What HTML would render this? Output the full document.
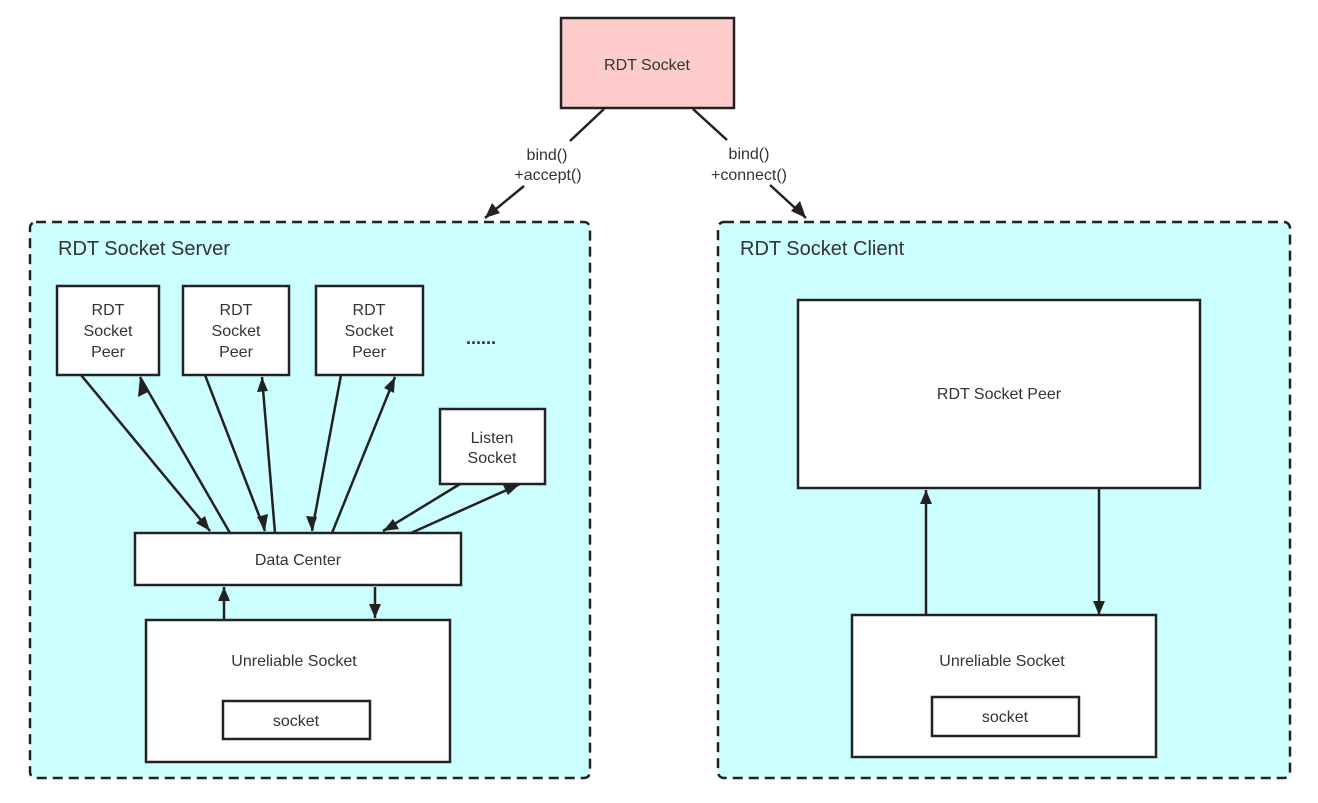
<!DOCTYPE html>
<html><head><meta charset="utf-8"><style>
html,body{margin:0;padding:0;background:#fff;}
svg{display:block;}
text{font-family:"Liberation Sans","DejaVu Sans",sans-serif;fill:#333;}
</style></head><body>
<svg width="1318" height="803" viewBox="0 0 1318 803" xmlns="http://www.w3.org/2000/svg">
<g stroke="#222" stroke-width="2.5">
<rect x="30" y="222" width="560" height="556" rx="6" fill="#ccffff" stroke-dasharray="10,6"/>
<rect x="718" y="222" width="572" height="556" rx="6" fill="#ccffff" stroke-dasharray="10,6"/>
<rect x="561" y="18" width="173" height="90" fill="#ffcccc"/>
<rect x="57" y="286" width="102" height="89" fill="#fff"/>
<rect x="183" y="286" width="106" height="89" fill="#fff"/>
<rect x="316" y="286" width="107" height="89" fill="#fff"/>
<rect x="440" y="409" width="105" height="75" fill="#fff"/>
<rect x="135" y="533" width="326" height="52" fill="#fff"/>
<rect x="146" y="620" width="304" height="142" fill="#fff"/>
<rect x="223" y="701" width="147" height="38" fill="#fff"/>
<rect x="798" y="300" width="402" height="188" fill="#fff"/>
<rect x="852" y="615" width="304" height="142" fill="#fff"/>
<rect x="932" y="697" width="147" height="39" fill="#fff"/>
</g>
<g stroke="#222" stroke-width="2.5" fill="none">
<line x1="604" y1="109" x2="570" y2="141"/>
<line x1="693" y1="109" x2="727" y2="140"/>
<path d="M524,186 L485,218"/><path d="M770,185 L806,218"/>
<path d="M81,375 L210,531"/><path d="M230,533 L140,377"/>
<path d="M205,375 L265,531"/><path d="M275,533 L262,377"/>
<path d="M341,375 L312,531"/><path d="M332,533 L395,377"/>
<path d="M460,484 L383,531"/><path d="M411,533 L520,484"/>
<path d="M224,620 L224,587"/><path d="M375,587 L375,618"/>
<path d="M926,615 L926,490"/><path d="M1099,488 L1099,615"/>
</g>
<g fill="#222">
<polygon points="485,218 492,203 500,213"/>
<polygon points="806,218 791,211 800,201"/>
<polygon points="210,531 196,523 205,516"/>
<polygon points="140,377 148,392 138,397"/>
<polygon points="265,531 257,517 268,514"/>
<polygon points="262,377 257,392 268,391"/>
<polygon points="312,531 306,516 317,517"/>
<polygon points="395,377 394,393 384,388"/>
<polygon points="383,531 393,519 399,529"/>
<polygon points="520,484 508,495 503,485"/>
<polygon points="224,587 218,601 230,601"/>
<polygon points="375,618 369,604 381,604"/>
<polygon points="926,490 920,504 932,504"/>
<polygon points="1099,615 1093,601 1105,601"/>
</g>
<g font-size="16" text-anchor="middle">
<text x="647" y="70">RDT Socket</text>
<text x="547" y="160">bind()</text>
<text x="548" y="180">+accept()</text>
<text x="749" y="159">bind()</text>
<text x="749" y="180">+connect()</text>
<text x="108" y="315">RDT</text><text x="108" y="336">Socket</text><text x="108" y="357">Peer</text>
<text x="236" y="315">RDT</text><text x="236" y="336">Socket</text><text x="236" y="357">Peer</text>
<text x="369" y="315">RDT</text><text x="369" y="336">Socket</text><text x="369" y="357">Peer</text>
<text x="481" y="344" font-weight="bold" font-size="18">......</text>
<text x="492" y="443">Listen</text><text x="492" y="463">Socket</text>
<text x="298" y="565">Data Center</text>
<text x="294" y="666">Unreliable Socket</text>
<text x="296" y="726">socket</text>
<text x="999" y="399">RDT Socket Peer</text>
<text x="1002" y="666">Unreliable Socket</text>
<text x="1005" y="722">socket</text>
</g>
<g font-size="20">
<text x="58" y="255">RDT Socket Server</text>
<text x="740" y="255">RDT Socket Client</text>
</g>
</svg>
</body></html>
